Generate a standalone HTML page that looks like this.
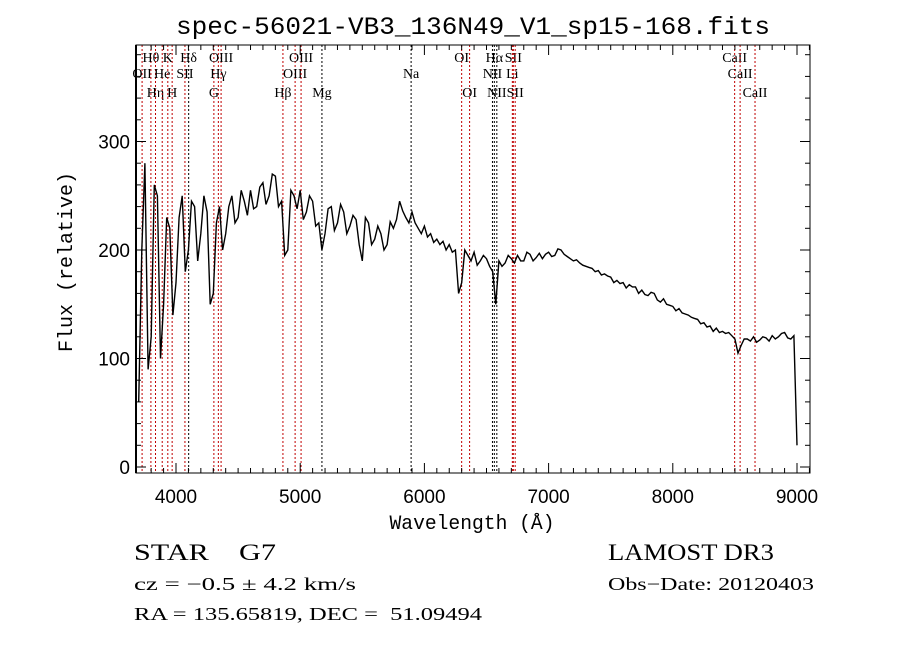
<!DOCTYPE html>
<html><head><meta charset="utf-8"><style>
html,body{margin:0;padding:0;background:#fff;}
svg{display:block;}
text{white-space:pre;}
</style></head><body>
<svg id="chart" width="900" height="649" xmlns="http://www.w3.org/2000/svg" xml:space="preserve">
<rect width="900" height="649" fill="#fff"/>
<text x="473" y="34" text-anchor="middle" font-family="Liberation Mono, monospace" font-size="25" textLength="594" lengthAdjust="spacingAndGlyphs">spec-56021-VB3_136N49_V1_sp15-168.fits</text>
<g id="lines"></g>
<g id="spec"></g>
<g id="axes"></g>
<text x="472" y="529" text-anchor="middle" font-family="Liberation Mono, monospace" font-size="20" textLength="165" lengthAdjust="spacingAndGlyphs">Wavelength (Å)</text>
<text transform="translate(72,262) rotate(-90)" text-anchor="middle" font-family="Liberation Mono, monospace" font-size="20" textLength="180" lengthAdjust="spacingAndGlyphs">Flux (relative)</text>
<g font-family="Liberation Serif, serif" fill="#000">
<text x="134" y="560" font-size="23" textLength="142" lengthAdjust="spacingAndGlyphs">STAR    G7</text>
<text x="608" y="560" font-size="23" textLength="166" lengthAdjust="spacingAndGlyphs">LAMOST DR3</text>
<text x="134" y="590" font-size="18" textLength="222" lengthAdjust="spacingAndGlyphs">cz = −0.5 ± 4.2 km/s</text>
<text x="608" y="590" font-size="18" textLength="206" lengthAdjust="spacingAndGlyphs">Obs−Date: 20120403</text>
<text x="134" y="620" font-size="18" textLength="348" lengthAdjust="spacingAndGlyphs">RA = 135.65819, DEC =  51.09494</text>
</g>
</svg>
<script>
const flux = [60,200,280,90,120,260,250,100,150,230,220,140,170,230,250,180,200,245,240,190,215,250,235,150,160,225,240,200,215,240,250,225,230,255,245,232,255,238,240,258,262,242,250,270,268,240,245,195,200,255,250,238,255,228,235,250,245,222,225,200,215,238,240,218,225,242,235,215,222,232,228,205,190,230,225,205,210,222,215,200,205,226,220,228,245,236,230,225,235,225,220,215,222,212,215,207,210,205,208,200,205,198,200,160,170,200,195,190,198,186,190,195,192,185,180,150,190,185,188,195,192,188,195,190,190,198,196,190,193,197,192,196,198,194,195,201,200,196,194,192,190,191,188,186,185,184,183,180,181,177,178,176,175,170,172,169,170,165,168,166,166,160,163,159,158,161,160,154,152,155,150,149,148,144,146,142,141,140,138,137,136,132,133,129,130,125,128,124,125,123,124,121,118,105,112,118,118,116,120,115,117,120,119,116,121,118,120,123,124,119,118,121,20];
const waveStart = 3700, waveStep = 25;
const lineWaves = [3727,3798,3835,3889,3934,3969,4072,4102,4305,4341,4363,4861,4959,5007,5175,5893,6300,6364,6548,6563,6583,6708,6716,6731,8498,8542,8662];
const lineNames = ["OII","Hθ","Hη","He","K","H","SII","Hδ","G","Hγ","OIII","Hβ","OIII","OIII","Mg","Na","OI","OI","NII","Hα","NII","Li","SII","SII","CaII","CaII","CaII"];
const lineRows = [2,1,3,2,1,3,2,1,3,2,1,3,2,1,3,2,1,3,2,1,3,2,1,3,1,2,3];
const lineRed = [1,1,1,1,1,1,1,0,1,1,1,1,1,1,0,0,1,1,0,0,0,1,1,1,1,1,1];
const xTicks = [4000,5000,6000,7000,8000,9000];
const yTicks = [0,100,200,300];

const NS="http://www.w3.org/2000/svg";
const L=136,R=810,T=45,B=473;
const X=w=>176+(w-4000)*0.1242;
const Y=f=>467-f*1.085;
function mk(tag,attrs,parent){const e=document.createElementNS(NS,tag);for(const k in attrs)e.setAttribute(k,attrs[k]);parent.appendChild(e);return e;}
const gl=document.getElementById('lines'),gs=document.getElementById('spec'),ga=document.getElementById('axes');
const rowY=[0,62,78,97];
lineWaves.forEach((w,i)=>{
  const ln=mk('line',{x1:X(w),x2:X(w),y1:T,y2:B,stroke:lineRed[i]?'#c00000':'#000','stroke-width':1,'stroke-dasharray':'2,2'},gl);
  
  
  const t=mk('text',{x:X(w),y:rowY[lineRows[i]],'text-anchor':'middle','font-family':'Liberation Serif, serif','font-size':14},gl);
  t.textContent=lineNames[i];
  
  
});
let pts=flux.map((f,i)=>X(waveStart+i*waveStep).toFixed(1)+','+Y(f).toFixed(1)).join(' ');
const pl=mk('polyline',{points:pts,fill:'none',stroke:'#000','stroke-width':1.4},gs);


const fr=mk('rect',{x:L,y:T,width:R-L,height:B-T,fill:'none',stroke:'#000','stroke-width':1},ga);


mk('line',{x1:L,x2:L,y1:T,y2:B,stroke:'#000','stroke-width':2},ga);
for(let w=3800;w<=9100;w+=100){
  const maj=w%1000===0, h=maj?10:5;
  mk('line',{x1:X(w),x2:X(w),y1:B,y2:B-h,stroke:'#000'},ga);
  mk('line',{x1:X(w),x2:X(w),y1:T,y2:T+h,stroke:'#000'},ga);
}
xTicks.forEach(w=>{const t=mk('text',{x:X(w),y:503,'text-anchor':'middle','font-family':'Liberation Sans, sans-serif','font-size':19},ga);t.textContent=w;

});
for(let f=0;f<=380;f+=20){
  const maj=f%100===0,h=maj?10:5;
  mk('line',{x1:L,x2:L+h,y1:Y(f),y2:Y(f),stroke:'#000'},ga);
  mk('line',{x1:R,x2:R-h,y1:Y(f),y2:Y(f),stroke:'#000'},ga);
}
yTicks.forEach(f=>{const t=mk('text',{x:130,y:Y(f)+7,'text-anchor':'end','font-family':'Liberation Sans, sans-serif','font-size':19},ga);t.textContent=f;

});
</script>
</body></html>
